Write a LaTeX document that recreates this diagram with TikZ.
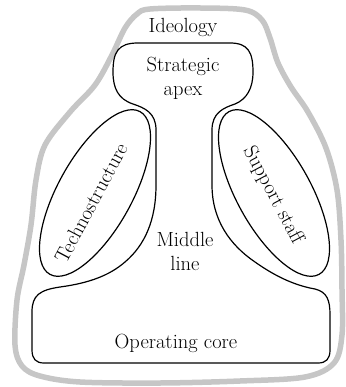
\documentclass[tikz,border=0pt]{standalone}
\usepackage{tikz}

\begin{document}
\begin{tikzpicture}[x=1pt,y=-1pt,
  txt/.style={inner sep=0pt, font=\fontsize{20.5}{24}\selectfont, align=center},
  part/.style={black, line width=1.2pt},
  ideo/.style={gray!45, line width=5.5pt, line join=round}]
\useasboundingbox (0,0) rectangle (345,387);

% ideology: the grey skin round the whole organisation
\draw[ideo] plot[smooth cycle, tension=0.55] coordinates {
  (150,9) (200,8) (245,10) (262,20) (270,38) (278,63) (291,87) (308,112)
  (326,148) (337,190) (341,240) (342,290) (342,335) (334,363) (305,377)
  (240,381) (160,383) (80,382) (40,376) (22,366) (15,345) (17,300)
  (24,265) (31,225) (36,180) (45,145) (70,112) (95,85) (112,55) (125,28)
  (137,14)};

% operating core, middle line and strategic apex in one outline
\draw[part] (32,350) -- (32,312)
  .. controls (32,295) and (40,290) .. (60,287)
  .. controls (90,283) and (110,275) .. (125,262)
  .. controls (145,245) and (156,220) .. (156,185)
  -- (156,130)
  .. controls (156,113) and (145,108) .. (133,104)
  .. controls (118,99) and (113,88) .. (113,72)
  .. controls (113,52) and (118,43) .. (138,43)
  -- (230,43)
  .. controls (248,43) and (253,52) .. (253,72)
  .. controls (253,88) and (247,99) .. (235,104)
  .. controls (223,108) and (212,113) .. (212,130)
  -- (212,185)
  .. controls (212,220) and (230,245) .. (255,262)
  .. controls (272,274) and (292,285) .. (315,289)
  .. controls (327,292) and (330,300) .. (330,315)
  -- (330,350)
  .. controls (330,359) and (326,363) .. (318,363)
  -- (44,363)
  .. controls (36,363) and (32,359) .. (32,350) -- cycle;

% the two staff units
\coordinate (technoC) at (95,193);
\coordinate (supportC) at (274,193);
\draw[part, rotate around={61:(technoC)}] (technoC) ellipse [x radius=93, y radius=37];
\draw[part, rotate around={-61:(supportC)}] (supportC) ellipse [x radius=93, y radius=37];

% labels
\node[txt, anchor=base] (ideology) at (183,33) {Ideology};
\node[txt] (apex) at (183,78) {Strategic\\apex};
\node[txt] (middle) at (185,251) {Middle\\line};
\node[txt, anchor=base] (core) at (176,348) {Operating core};
\node[txt, rotate=62] (techno) at (91,203) {Technostructure};
\node[txt, rotate=-62] (support) at (273,195) {Support staff};
\end{tikzpicture}
\end{document}
